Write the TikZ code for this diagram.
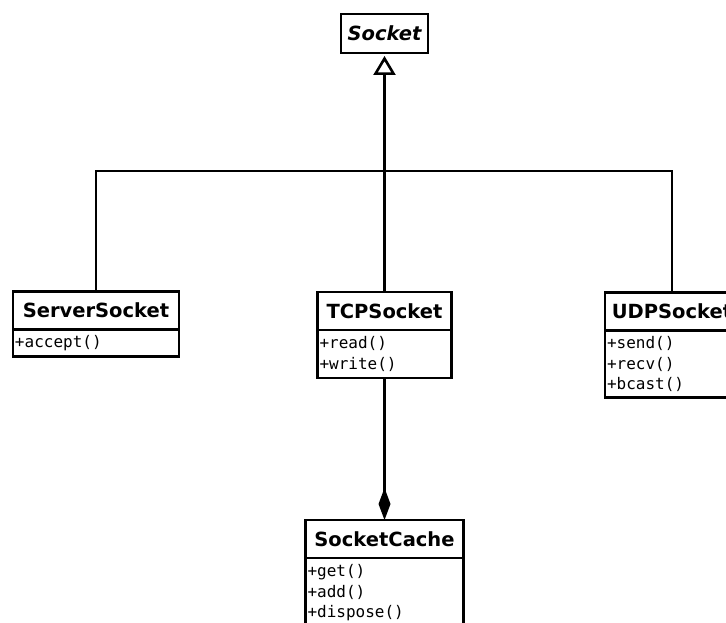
\documentclass[tikz,border=0pt]{standalone}
\usepackage{fontspec}
\setmainfont{DejaVu Sans}
\newfontfamily\umlmono{DejaVu Sans Mono}
\usetikzlibrary{arrows.meta}
\begin{document}
\begin{tikzpicture}[x=1pt,y=-1pt,line width=2.6pt,
  titlebox/.style={draw,rectangle,minimum height=38pt,inner sep=0pt,outer sep=0pt,
    font=\fontsize{19.5}{22}\selectfont\bfseries},
  methbox/.style={draw,rectangle,inner xsep=2pt,inner ysep=3pt,outer sep=0pt,anchor=north,
    align=left,text width=#1-4pt,font=\umlmono\fontsize{16}{20.5}\selectfont},
  generalizes/.style={-{Triangle[open,length=19pt,width=22pt]},shorten >=3pt},
  composes/.style={-{Diamond[length=32pt,width=12pt]}}]
\useasboundingbox (0,0) rectangle (726,623);
\clip (0,0) rectangle (726,623);
\fill[white] (0,0) rectangle (726,623);

% abstract base class
\node[titlebox,minimum width=87pt,minimum height=39pt,
  font=\fontsize{19.5}{22}\selectfont\bfseries\itshape] (sock) at (384.5,33.5) {Socket};

% subclasses
\node[titlebox,minimum width=166pt] (ss) at (96,310.5) {ServerSocket};
\node[methbox=166pt,minimum height=27pt] (ssm) at (ss.south) {+accept()};

\node[titlebox,minimum width=134pt] (tcp) at (384.5,311) {TCPSocket};
\node[methbox=134pt,minimum height=48pt] (tcpm) at (tcp.south) {+read()\\+write()};

\node[titlebox,minimum width=134pt] (udp) at (672,311.5) {UDPSocket};
\node[methbox=134pt,minimum height=67pt] (udpm) at (udp.south) {+send()\\+recv()\\+bcast()};

% component owned by TCPSocket
\node[titlebox,minimum width=158pt] (cache) at (384.5,539) {SocketCache};
\node[methbox=158pt,minimum height=70pt] (cachem) at (cache.south) {+get()\\+add()\\+dispose()};

% inheritance tree
\coordinate (junction) at (384.5,171);
\draw[generalizes] (junction) -- (sock.south);
\draw (ss.north) |- (udp.north |- junction) -- (udp.north);
\draw (junction) -- (tcp.north);

% composition
\draw[composes] (tcpm.south) -- (cache.north);
\end{tikzpicture}
\end{document}
